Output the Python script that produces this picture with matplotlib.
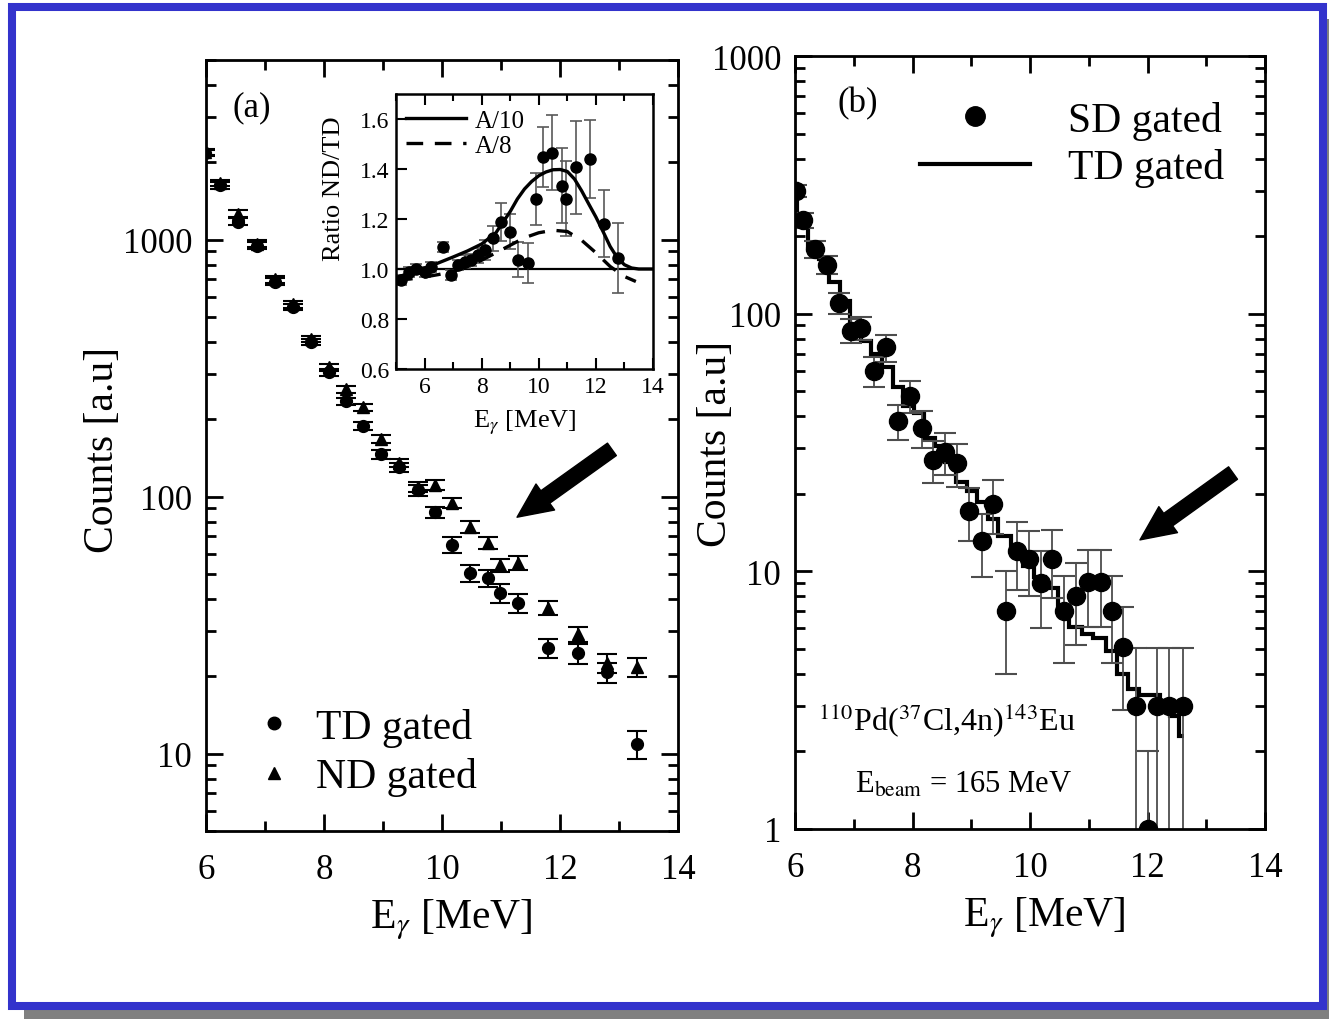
import matplotlib
matplotlib.use('Agg')
import matplotlib.pyplot as plt
from matplotlib.patches import Rectangle
from matplotlib.lines import Line2D
from matplotlib.ticker import MultipleLocator, LogLocator, NullFormatter

plt.rcParams['font.family'] = ['Liberation Serif', 'DejaVu Serif']
plt.rcParams['mathtext.fontset'] = 'stix'

# (a) gamma spectra, TD and ND gated
e_a = [5.98, 6.24, 6.54, 6.86, 7.17, 7.47, 7.78, 8.08, 8.37, 8.66, 8.97, 9.27,
       9.59, 9.88, 10.17, 10.47, 10.78, 10.98, 11.29, 11.80, 12.31, 12.80, 13.31]
td_counts = [2170, 1626, 1175, 948, 686, 547, 400, 305, 235, 188, 146, 130,
             106, 87, 65, 50.5, 48.3, 42.2, 38.5, 25.7, 24.6, 20.7, 10.9]
td_err = [60, 45, 35, 28, 20, 16, 12, 9, 8, 7, 6, 5,
          5, 4.5, 4.5, 3.8, 3.6, 3.5, 3.2, 2.2, 2.2, 1.9, 1.4]
nd_counts = [2200, 1660, 1261, 965, 700, 560, 410, 319, 262, 223, 167, 135,
             109.5, 111.4, 94.8, 76.4, 66.1, 54.2, 55.2, 36.8, 29.2, 22.5, 21.7]
nd_err = [60, 45, 38, 28, 20, 16, 12, 10, 8, 7, 6, 5,
          5, 5, 4.3, 4.0, 3.4, 3.2, 3.3, 2.3, 2.0, 1.9, 1.8]

# inset: ND/TD ratio with the A/10 and A/8 calculations
r_e = [5.18, 5.47, 5.71, 6.00, 6.24, 6.64, 6.94, 7.17, 7.40, 7.64, 7.87, 8.10, 8.40,
       8.69, 8.98, 9.27, 9.63, 9.92, 10.15, 10.48, 10.80, 10.97, 11.29, 11.81, 12.28, 12.78]
ratio = [0.957, 0.99, 1.0, 0.99, 1.01, 1.089, 0.977, 1.017, 1.03, 1.037, 1.056, 1.076, 1.123,
         1.189, 1.149, 1.037, 1.023, 1.281, 1.447, 1.466, 1.334, 1.281, 1.407, 1.44, 1.182, 1.043]
ratio_err = [0.02, 0.02, 0.02, 0.02, 0.02, 0.02, 0.02, 0.02, 0.025, 0.025, 0.03, 0.04, 0.05,
             0.076, 0.07, 0.07, 0.08, 0.105, 0.12, 0.15, 0.15, 0.15, 0.185, 0.157, 0.135, 0.14]
a10_e = [5.0, 5.5, 6.0, 6.5, 7.0, 7.5, 8.0, 8.5, 9.0, 9.25, 9.5, 9.75, 10.0, 10.25, 10.5,
         10.75, 11.0, 11.25, 11.5, 11.75, 12.0, 12.25, 12.5, 12.75, 13.0, 13.25, 13.5, 14.0]
a10_ratio = [0.965, 0.985, 1.003, 1.025, 1.048, 1.072, 1.10, 1.145, 1.23, 1.28, 1.32, 1.35, 1.373,
             1.388, 1.397, 1.398, 1.39, 1.36, 1.313, 1.26, 1.208, 1.15, 1.09, 1.045, 1.017,
             1.004, 1.0, 1.0]
a8_e = [5.0, 5.5, 6.0, 6.5, 7.0, 7.5, 8.0, 8.5, 9.0, 9.5, 10.0, 10.5, 11.0, 11.5, 12.0,
        12.5, 13.0, 13.4]
a8_ratio = [0.955, 0.96, 0.968, 0.978, 0.99, 1.01, 1.035, 1.065, 1.095, 1.125, 1.145, 1.155,
            1.15, 1.115, 1.065, 1.01, 0.97, 0.95]

# (b) 143Eu: SD gated points, TD gated histogram
e_b = [6.02, 6.14, 6.34, 6.54, 6.75, 6.95, 7.12, 7.35, 7.55, 7.75, 7.96, 8.17, 8.35, 8.55,
       8.76, 8.97, 9.19, 9.37, 9.59, 9.78, 9.98, 10.19, 10.37, 10.58, 10.78, 10.98, 11.20,
       11.39, 11.58, 11.80, 12.00, 12.17, 12.36, 12.61]
sd_counts = [300, 230, 178, 155, 110, 86, 88, 60, 74, 38.4, 48, 36, 27, 29, 26.3, 17.1, 13.1,
             18.3, 7.0, 12.0, 11.2, 9.0, 11.2, 7.0, 8.0, 9.1, 9.1, 7.0, 5.1, 3.0, 1.0, 3.0,
             3.0, 3.0]
sd_err = [17, 15, 13, 12, 10, 9, 9, 8, 9, 6, 7, 6, 5, 5.4, 5, 4, 3.6, 4.3, 3, 3.5, 3.2, 3,
          3.3, 2.6, 2.8, 3, 3, 2.6, 2.2, 2.05, 1.0, 2.05, 2.05, 2.05]
td_edges = [5.85, 6.04, 6.22, 6.40, 6.58, 6.76, 6.94, 7.12, 7.30, 7.48, 7.66, 7.84, 8.02,
            8.20, 8.38, 8.56, 8.74, 8.92, 9.10, 9.28, 9.46, 9.68, 9.88, 10.07, 10.26, 10.48,
            10.66, 10.88, 11.08, 11.30, 11.48, 11.66, 11.86, 12.22, 12.38, 12.53, 12.62]
td_hist = [318, 219, 183, 163, 133, 112, 90, 78, 70, 62, 52, 44, 41, 33, 30.6, 26.6, 22.2,
           20.5, 18.6, 16.0, 13.7, 12.0, 10.5, 9.5, 8.6, 7.3, 6.1, 5.7, 5.5, 4.9, 4.0, 3.5,
           3.3, 2.9, 2.75, 2.3]

W, H = 1329, 1020
fig = plt.figure(figsize=(W / 100, H / 100), dpi=100)

# slide frame with drop shadow
shadow = Rectangle((24 / W, 0), 1 - 24 / W, 1 - 20 / H, transform=fig.transFigure,
                   facecolor='#808080', edgecolor='none', zorder=-3)
frame = Rectangle((12 / W, 1 - 1007 / H), 1310.5 / W, 999.5 / H, transform=fig.transFigure,
                  facecolor='white', edgecolor='#3333cc', lw=5.8, zorder=-2)
fig.patches.extend([shadow, frame])

ARROW = 'simple,head_length=1.25,head_width=1.15,tail_width=0.55'


def style_main(ax):
    for s in ax.spines.values():
        s.set_linewidth(2.0)
    ax.set_xlim(6, 14)
    ax.set_xticks([6, 8, 10, 12, 14])
    ax.xaxis.set_minor_locator(MultipleLocator(1))
    ax.set_yscale('log')
    ax.yaxis.set_minor_locator(LogLocator(base=10, subs=range(2, 10)))
    ax.yaxis.set_minor_formatter(NullFormatter())
    ax.tick_params(which='both', direction='in', top=True, right=True, width=2,
                   labelsize=25)
    ax.tick_params(axis='x', pad=16)
    ax.tick_params(axis='y', pad=10)
    ax.tick_params(which='major', length=12)
    ax.tick_params(which='minor', length=7)
    ax.set_xlabel(r'E$_\gamma$ [MeV]', fontsize=30, va='top')
    ax.set_ylabel('Counts [a.u]', fontsize=30)


# panel (a)
ax_a = fig.add_axes([206 / W, 1 - 832 / H, 472 / W, 771 / H])
style_main(ax_a)
ax_a.set_ylim(5, 5000)
ax_a.set_yticks([10, 100, 1000], labels=['10', '100', '1000'])
ax_a.errorbar(e_a, nd_counts, yerr=nd_err, fmt='^', color='k', ms=8.5, capsize=7,
              elinewidth=1.5, capthick=1.5)
ax_a.errorbar(e_a, td_counts, yerr=td_err, fmt='o', color='k', ms=8.5, capsize=7,
              elinewidth=1.5, capthick=1.5)
ax_a.xaxis.set_label_coords(0.52, -0.085)
ax_a.yaxis.set_label_coords(-0.178, 0.495)
ax_a.text(0.097, 0.939, '(a)', transform=ax_a.transAxes, fontsize=25, ha='center', va='center')
ax_a.legend([Line2D([], [], marker='o', ls='none', color='k', ms=9),
             Line2D([], [], marker='^', ls='none', color='k', ms=9)],
            ['TD gated', 'ND gated'], loc='lower left', bbox_to_anchor=(0.1, 0.045),
            frameon=False, fontsize=30, handlelength=1.0, handletextpad=0.5,
            labelspacing=0.25, borderpad=0, borderaxespad=0)
ax_a.annotate('', xy=(0.659, 0.407), xytext=(0.860, 0.495), xycoords='axes fraction',
              arrowprops=dict(arrowstyle=ARROW, mutation_scale=20, color='k',
                              shrinkA=0, shrinkB=0))

# inset of panel (a)
ax_in = fig.add_axes([396 / W, 1 - 370 / H, 257 / W, 275 / H])
for s in ax_in.spines.values():
    s.set_linewidth(1.8)
ax_in.set_xlim(5, 14)
ax_in.set_ylim(0.6, 1.7)
ax_in.set_xticks([6, 8, 10, 12, 14])
ax_in.xaxis.set_minor_locator(MultipleLocator(1))
ax_in.set_yticks([0.6, 0.8, 1.0, 1.2, 1.4, 1.6],
                 labels=['0.6', '0.8', '1.0', '1.2', '1.4', '1.6'])
ax_in.tick_params(which='both', direction='in', top=True, right=False, width=1.5,
                  labelsize=17, pad=5)
ax_in.tick_params(which='major', length=8)
ax_in.tick_params(which='minor', length=5)
ax_in.axhline(1.0, color='k', lw=1.6)
ax_in.errorbar(r_e, ratio, yerr=ratio_err, fmt='o', color='k', ms=8, ecolor='0.35',
               elinewidth=1.2, capsize=4, capthick=1.2)
ax_in.plot(a10_e, a10_ratio, color='k', lw=2.4, label='A/10')
ax_in.plot(a8_e, a8_ratio, color='k', lw=2.4, ls=(0, (5, 3.5)), label='A/8')
ax_in.set_xlabel(r'E$_\gamma$ [MeV]', fontsize=19)
ax_in.set_ylabel('Ratio ND/TD', fontsize=19)
ax_in.xaxis.set_label_coords(0.5, -0.14)
ax_in.yaxis.set_label_coords(-0.2, 0.66)
ax_in.legend(loc='upper left', bbox_to_anchor=(0.04, 0.945), frameon=False, fontsize=18,
             handlelength=2.4, handletextpad=0.35, labelspacing=0.1, borderpad=0,
             borderaxespad=0)

# panel (b)
ax_b = fig.add_axes([795 / W, 1 - 830 / H, 470 / W, 773 / H])
style_main(ax_b)
ax_b.set_ylim(1, 1000)
ax_b.set_yticks([1, 10, 100, 1000], labels=['1', '10', '100', '1000'])
ax_b.stairs(td_hist, td_edges, color='k', lw=3, baseline=None)
ax_b.errorbar(e_b, sd_counts, yerr=sd_err, fmt='o', color='k', ms=13, ecolor='0.3',
              elinewidth=1.3, capsize=8, capthick=1.5)
ax_b.xaxis.set_label_coords(0.53, -0.085)
ax_b.yaxis.set_label_coords(-0.128, 0.5)
ax_b.text(0.134, 0.939, '(b)', transform=ax_b.transAxes, fontsize=25, ha='center', va='center')
ax_b.legend([Line2D([], [], marker='o', ls='none', color='k', ms=14),
             Line2D([], [], color='k', lw=3)],
            ['SD gated', 'TD gated'], loc='upper left', bbox_to_anchor=(0.266, 0.942),
            frameon=False, fontsize=30, handlelength=2.64, handletextpad=0.9,
            labelspacing=0.2, borderpad=0, borderaxespad=0)
ax_b.text(0.049, 0.142, r'$^{110}$Pd($^{37}$Cl,4n)$^{143}$Eu', transform=ax_b.transAxes,
          fontsize=23, ha='left', va='center')
ax_b.text(0.128, 0.058, r'E$_{\rm beam}$ = 165 MeV', transform=ax_b.transAxes,
          fontsize=22, ha='left', va='center')
ax_b.annotate('', xy=(0.734, 0.374), xytext=(0.932, 0.4605), xycoords='axes fraction',
              arrowprops=dict(arrowstyle=ARROW, mutation_scale=20, color='k',
                              shrinkA=0, shrinkB=0))

fig.savefig('out.png', dpi=100)
